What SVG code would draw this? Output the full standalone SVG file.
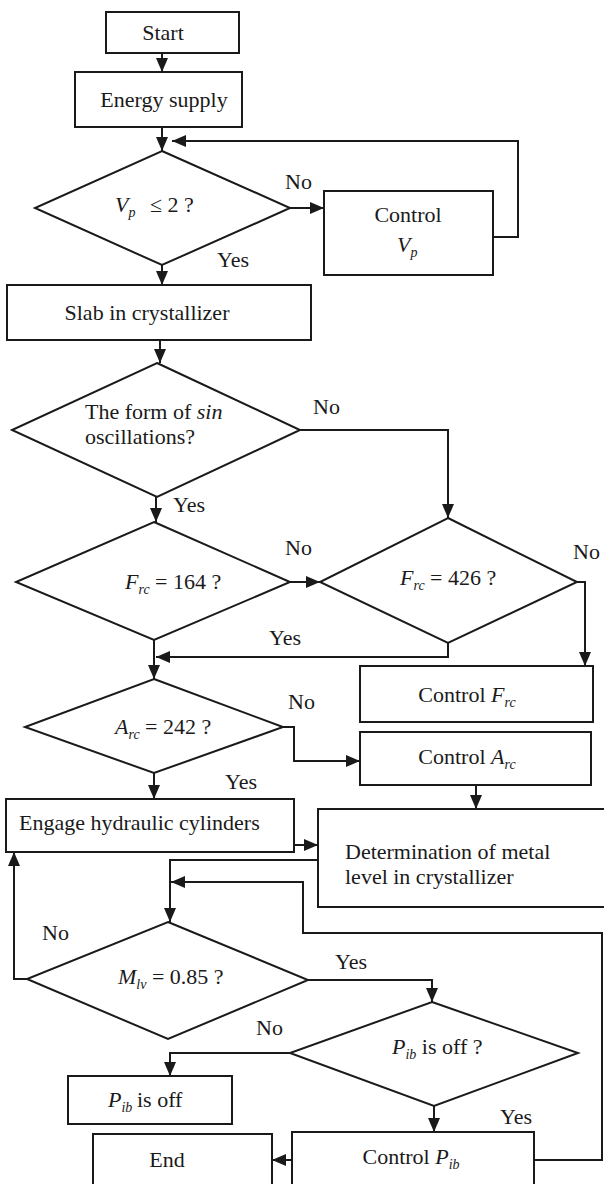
<svg xmlns="http://www.w3.org/2000/svg" width="604" height="1184" viewBox="0 0 604 1184">
<style>
.n{fill:#fff;stroke:#1a1a1a;stroke-width:2}
.c{fill:none;stroke:#1a1a1a;stroke-width:2}
text{font-family:"Liberation Serif","Times New Roman",serif;font-size:22px;fill:#1a1a1a}
.m{text-anchor:middle}
.i{font-style:italic}
.s{font-size:14px;font-style:italic}
</style>
<defs>
<marker id="ah" viewBox="0 0 14 12" refX="14" refY="6" markerWidth="14" markerHeight="12" orient="auto" markerUnits="userSpaceOnUse"><path d="M0,0 L14,6 L0,12 z" fill="#1a1a1a"/></marker>
</defs>
<rect width="604" height="1184" fill="#fff"/>
<g id="connectors">
<path class="c" d="M162,53 V72" marker-end="url(#ah)"/>
<path class="c" d="M162,127 V151" marker-end="url(#ah)"/>
<path class="c" d="M290,208 H324" marker-end="url(#ah)"/>
<path class="c" d="M493,237 H518 V141 H172" marker-end="url(#ah)"/>
<path class="c" d="M162,265 V285" marker-end="url(#ah)"/>
<path class="c" d="M160,340 V363" marker-end="url(#ah)"/>
<path class="c" d="M300,430 H448 V518" marker-end="url(#ah)"/>
<path class="c" d="M156,497 V522" marker-end="url(#ah)"/>
<path class="c" d="M290,582 H320" marker-end="url(#ah)"/>
<path class="c" d="M577,582 H585 V666" marker-end="url(#ah)"/>
<path class="c" d="M448,643 V657 H156" marker-end="url(#ah)"/>
<path class="c" d="M154,640 V679" marker-end="url(#ah)"/>
<path class="c" d="M283,727 H294 V761 H360" marker-end="url(#ah)"/>
<path class="c" d="M154,773 V799" marker-end="url(#ah)"/>
<path class="c" d="M476,785 V809" marker-end="url(#ah)"/>
<path class="c" d="M294,845 H318" marker-end="url(#ah)"/>
<path class="c" d="M318,860 H170 V922" marker-end="url(#ah)"/>
<path class="c" d="M534,1160 H602 V933 H303 V882 H171" marker-end="url(#ah)"/>
<path class="c" d="M27,979 H14 V852" marker-end="url(#ah)"/>
<path class="c" d="M308,980 H432 V1002" marker-end="url(#ah)"/>
<path class="c" d="M290,1053 H170 V1076" marker-end="url(#ah)"/>
<path class="c" d="M434,1106 V1132" marker-end="url(#ah)"/>
<path class="c" d="M292,1160 H272" marker-end="url(#ah)"/>
</g>
<g id="start"><rect class="n" x="106" y="12" width="133" height="41"/><text class="m" x="163" y="40">Start</text></g>
<g id="energy"><rect class="n" x="75" y="72" width="167" height="55"/><text class="m" x="164" y="107">Energy supply</text></g>
<g id="d-vp"><polygon class="n" points="162,151 290,208 162,265 35,208"/><text x="115" y="212"><tspan class="i">V</tspan><tspan class="s" dy="5">p</tspan><tspan dy="-5" x="150">≤ 2 ?</tspan></text></g>
<g id="ctrl-vp"><rect class="n" x="324" y="191" width="169" height="84"/><text class="m" x="408" y="222">Control</text><text x="397" y="252"><tspan class="i">V</tspan><tspan class="s" dy="5">p</tspan></text></g>
<g id="slab"><rect class="n" x="7" y="285" width="304" height="55"/><text class="m" x="147" y="320">Slab in crystallizer</text></g>
<g id="d-form"><polygon class="n" points="157,363 300,430 157,497 12,430"/><text x="85" y="419">The form of <tspan class="i">sin</tspan></text><text x="85" y="444">oscillations?</text></g>
<g id="d-f164"><polygon class="n" points="154,522 290,582 154,640 16,582"/><text x="125" y="589"><tspan class="i">F</tspan><tspan class="s" dy="5">rc</tspan><tspan dy="-5"> = 164 ?</tspan></text></g>
<g id="d-f426"><polygon class="n" points="448,518 577,582 448,643 320,582"/><text x="400" y="585"><tspan class="i">F</tspan><tspan class="s" dy="5">rc</tspan><tspan dy="-5"> = 426 ?</tspan></text></g>
<g id="ctrl-frc"><rect class="n" x="360" y="666" width="233" height="56"/><text class="m" x="467" y="702">Control <tspan class="i">F</tspan><tspan class="s" dy="5">rc</tspan></text></g>
<g id="ctrl-arc"><rect class="n" x="360" y="732" width="231" height="53"/><text class="m" x="467" y="764">Control <tspan class="i">A</tspan><tspan class="s" dy="5">rc</tspan></text></g>
<g id="d-a242"><polygon class="n" points="154,679 283,727 154,773 25,727"/><text x="115" y="734"><tspan class="i">A</tspan><tspan class="s" dy="5">rc</tspan><tspan dy="-5"> = 242 ?</tspan></text></g>
<g id="engage"><rect class="n" x="6" y="799" width="288" height="53"/><text x="19" y="830">Engage hydraulic cylinders</text></g>
<g id="determination"><rect class="n" x="318" y="809" width="300" height="98"/><text x="345" y="859">Determination of metal</text><text x="345" y="884">level in crystallizer</text></g>
<g id="d-mlv"><polygon class="n" points="168,922 308,980 168,1039 27,979"/><text x="118" y="984"><tspan class="i">M</tspan><tspan class="s" dy="5">lv</tspan><tspan dy="-5"> = 0.85 ?</tspan></text></g>
<g id="d-pib"><polygon class="n" points="432,1002 578,1053 434,1106 290,1053"/><text x="392" y="1054"><tspan class="i">P</tspan><tspan class="s" dy="5">ib</tspan><tspan dy="-5"> is off ?</tspan></text></g>
<g id="pib-off"><rect class="n" x="68" y="1076" width="164" height="48"/><text x="108" y="1107"><tspan class="i">P</tspan><tspan class="s" dy="5">ib</tspan><tspan dy="-5" x="137">is off</tspan></text></g>
<g id="ctrl-pib"><rect class="n" x="292" y="1132" width="242" height="64"/><text class="m" x="411" y="1164">Control <tspan class="i">P</tspan><tspan class="s" dy="5">ib</tspan></text></g>
<g id="end"><rect class="n" x="93" y="1134" width="179" height="62"/><text class="m" x="167" y="1167">End</text></g>
<g id="labels">
<text x="285" y="189">No</text>
<text x="217" y="267">Yes</text>
<text x="313" y="414">No</text>
<text x="173" y="512">Yes</text>
<text x="285" y="555">No</text>
<text x="573" y="559">No</text>
<text x="269" y="645">Yes</text>
<text x="288" y="709">No</text>
<text x="225" y="789">Yes</text>
<text x="42" y="940">No</text>
<text x="335" y="969">Yes</text>
<text x="256" y="1035">No</text>
<text x="500" y="1124">Yes</text>
</g>
</svg>
